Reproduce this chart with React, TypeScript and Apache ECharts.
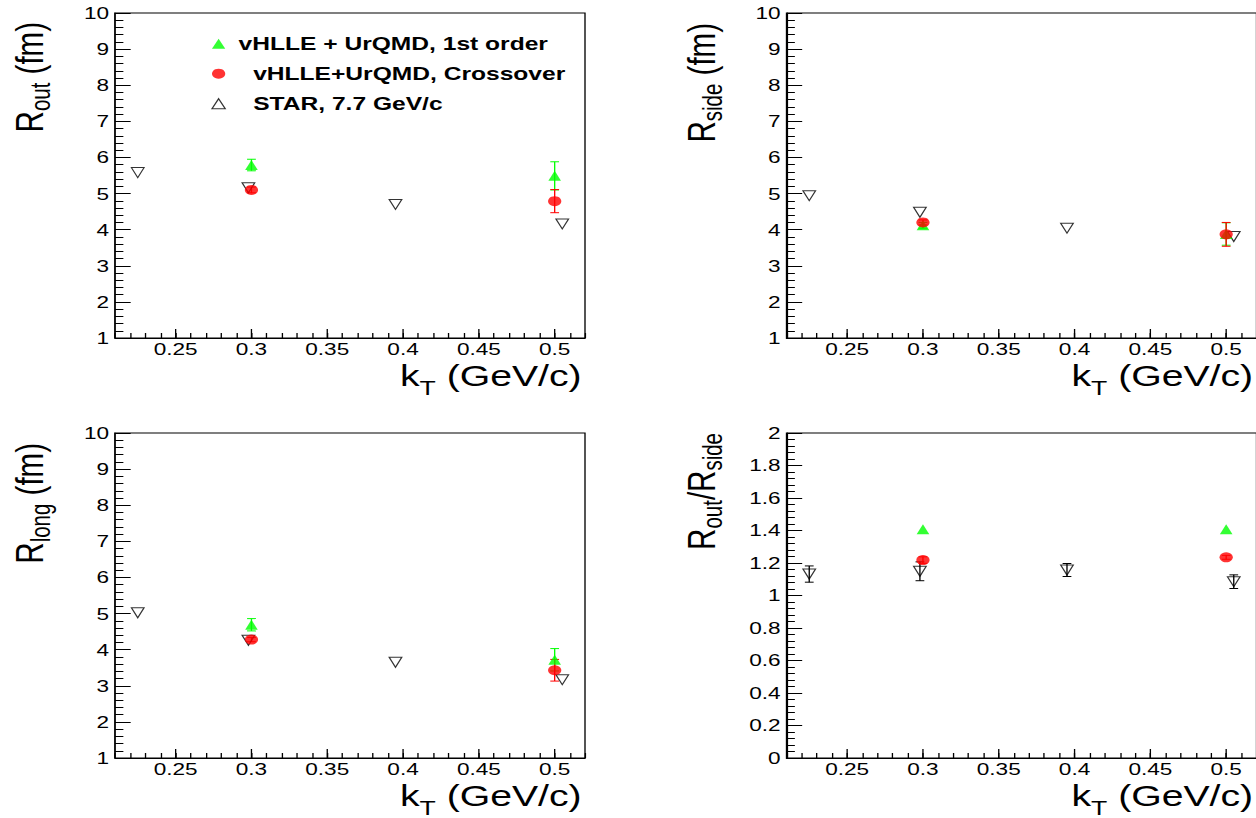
import React, { useEffect, useRef } from "react";
import * as echarts from "echarts";

// The reference picture is horizontally stretched; draw at natural width and stretch with CSS.
const STRETCH = 1.329;
const CHART_W = 945;
const CHART_H = 818;
const FONT = "'Liberation Sans', Arial, Helvetica, sans-serif";

const NAME_FIRST = "vHLLE + UrQMD, 1st order";
const NAME_CROSS = "vHLLE+UrQMD, Crossover";
const NAME_STAR = "STAR, 7.7 GeV/c";

const GREEN = "#00ff00";
const RED = "#ff0000";

// axes
const KT_RANGE = [0.21, 0.52];
const KT_MINOR_STEP = 0.01;
const KT_LABELS = [0.25, 0.3, 0.35, 0.4, 0.45, 0.5];
const R_RANGE = [1, 10];
const R_STEP = 1;
const RATIO_RANGE = [0, 2];
const RATIO_STEP = 0.2;

// kT positions
const kTModel = [0.3, 0.5];
const kTStar = [0.225, 0.298, 0.395, 0.505];

// R_out (fm)
const routFirst = [5.79, 5.49];
const routFirstErr = [0.16, 0.39];
const routCross = [5.1, 4.79];
const routCrossErr = [0.08, 0.32];
const routStar = [5.58, 5.16, 4.7, 4.16];

// R_side (fm)
const rsideFirst = [4.12, 3.88];
const rsideFirstErr = [0.08, 0.31];
const rsideCross = [4.2, 3.87];
const rsideCrossErr = [0.07, 0.33];
const rsideStar = [4.94, 4.48, 4.04, 3.81];

// R_long (fm)
const rlongFirst = [4.69, 3.72];
const rlongFirstErr = [0.17, 0.31];
const rlongCross = [4.28, 3.43];
const rlongCrossErr = [0.06, 0.3];
const rlongStar = [5.02, 4.26, 3.65, 3.17];

// R_out / R_side
const ratioFirst = [1.408, 1.408];
const ratioFirstErr = [0, 0];
const ratioCross = [1.218, 1.235];
const ratioCrossErr = [0.02, 0.012];
const ratioStar = [1.132, 1.149, 1.157, 1.085];
const ratioStarErr = [0.05, 0.058, 0.04, 0.042];

// panel layout, in picture pixels
const PANEL_LEFT = [115, 786.5, 115, 786.5];
const PANEL_TOP = [13, 13, 433, 433];
const PANEL_W = 470;
const PANEL_H = 325;
const YTITLE_END = [22, 23, 443, 433];

const DOWN_TRIANGLE = "path://M0,0L10,0L5,10Z";

type Panel = {
  yRange: number[];
  yStep: number;
  first: number[];
  firstErr: number[];
  cross: number[];
  crossErr: number[];
  star: number[];
  starErr: number[] | null;
  yTitle: string;
};

const panels: Panel[] = [
  { yRange: R_RANGE, yStep: R_STEP, first: routFirst, firstErr: routFirstErr, cross: routCross, crossErr: routCrossErr, star: routStar, starErr: null, yTitle: "{r|R}{s|out}{r| (fm)}" },
  { yRange: R_RANGE, yStep: R_STEP, first: rsideFirst, firstErr: rsideFirstErr, cross: rsideCross, crossErr: rsideCrossErr, star: rsideStar, starErr: null, yTitle: "{r|R}{s|side}{r| (fm)}" },
  { yRange: R_RANGE, yStep: R_STEP, first: rlongFirst, firstErr: rlongFirstErr, cross: rlongCross, crossErr: rlongCrossErr, star: rlongStar, starErr: null, yTitle: "{r|R}{s|long}{r| (fm)}" },
  { yRange: RATIO_RANGE, yStep: RATIO_STEP, first: ratioFirst, firstErr: ratioFirstErr, cross: ratioCross, crossErr: ratioCrossErr, star: ratioStar, starErr: ratioStarErr, yTitle: "{r|R}{s|out}{r|/R}{s|side}" },
];

function errorSeries(i: number, xs: number[], vals: number[], errs: number[], color: string) {
  const data = xs
    .map((x, j) => [x, vals[j] - errs[j], vals[j] + errs[j]])
    .filter((d) => d[2] > d[1]);
  return {
    type: "custom",
    coordinateSystem: "cartesian2d",
    xAxisIndex: i,
    yAxisIndex: i,
    silent: true,
    encode: { x: 0, y: [1, 2] },
    data,
    renderItem: (_params: any, api: any) => {
      const x = api.value(0);
      const lo = api.value(1);
      const hi = api.value(2);
      const pHi = api.coord([x, hi]);
      const pLo = api.coord([x, lo]);
      const cw = 3.3;
      const st = { stroke: color, lineWidth: 1 };
      return {
        type: "group",
        children: [
          { type: "line", shape: { x1: pHi[0], y1: pHi[1], x2: pLo[0], y2: pLo[1] }, style: st },
          { type: "line", shape: { x1: pHi[0] - cw, y1: pHi[1], x2: pHi[0] + cw, y2: pHi[1] }, style: st },
          { type: "line", shape: { x1: pLo[0] - cw, y1: pLo[1], x2: pLo[0] + cw, y2: pLo[1] }, style: st },
        ],
      };
    },
  };
}

// longer (major) ticks at the labelled kT values, placed through the axis scale
function majorTickSeries(i: number, yMin: number) {
  return {
    type: "custom",
    coordinateSystem: "cartesian2d",
    xAxisIndex: i,
    yAxisIndex: i,
    silent: true,
    encode: { x: 0, y: 1 },
    data: KT_LABELS.map((x) => [x, yMin]),
    renderItem: (_params: any, api: any) => {
      const p = api.coord([api.value(0), api.value(1)]);
      return {
        type: "line",
        shape: { x1: p[0], y1: p[1], x2: p[0], y2: p[1] - 9 },
        style: { stroke: "#000", lineWidth: 1 },
      };
    },
  };
}

function buildOption() {
  const grid: any[] = [];
  const xAxis: any[] = [];
  const yAxis: any[] = [];
  const series: any[] = [];
  const graphic: any[] = [];

  const labelStyle = { fontFamily: FONT, fontSize: 17, color: "#000" };
  const titleMain = { fontFamily: FONT, fontSize: 29.5, lineHeight: 30, color: "#000", verticalAlign: "top" };

  panels.forEach((p, i) => {
    const left = PANEL_LEFT[i] / STRETCH;
    const width = PANEL_W / STRETCH;
    const top = PANEL_TOP[i];
    grid.push({
      left,
      top,
      width,
      height: PANEL_H,
      show: true,
      borderColor: "#000",
      borderWidth: 1,
      backgroundColor: "transparent",
      containLabel: false,
      outerBoundsMode: "none",
    });
    xAxis.push({
      type: "value",
      gridIndex: i,
      position: "bottom",
      min: KT_RANGE[0],
      max: KT_RANGE[1],
      interval: KT_MINOR_STEP,
      axisLine: { show: true, onZero: false, lineStyle: { color: "#000", width: 1 } },
      axisTick: { show: true, inside: true, length: 5, lineStyle: { color: "#000", width: 1 } },
      axisLabel: { show: true, customValues: KT_LABELS, margin: 2.5, ...labelStyle },
      splitLine: { show: false },
    });
    yAxis.push({
      type: "value",
      gridIndex: i,
      min: p.yRange[0],
      max: p.yRange[1],
      interval: p.yStep,
      axisLine: { show: true, onZero: false, lineStyle: { color: "#000", width: 1 } },
      axisTick: { show: true, inside: true, length: 11.8, lineStyle: { color: "#000", width: 1 } },
      minorTick: { show: true, splitNumber: 5, length: 6.3, lineStyle: { color: "#000", width: 1 } },
      axisLabel: { show: true, margin: 4.5, ...labelStyle },
      splitLine: { show: false },
      minorSplitLine: { show: false },
    });

    series.push(majorTickSeries(i, p.yRange[0]));
    // STAR
    series.push({
      type: "scatter",
      name: NAME_STAR,
      xAxisIndex: i,
      yAxisIndex: i,
      symbol: DOWN_TRIANGLE,
      symbolSize: [9.5, 10],
      itemStyle: { color: "rgba(255,255,255,0)", borderColor: "#000", borderWidth: 1 },
      data: kTStar.map((x, j) => [x, p.star[j]]),
    });
    if (p.starErr) series.push(errorSeries(i, kTStar, p.star, p.starErr, "#000"));
    // 1st order
    series.push(errorSeries(i, kTModel, p.first, p.firstErr, GREEN));
    series.push({
      type: "scatter",
      name: NAME_FIRST,
      xAxisIndex: i,
      yAxisIndex: i,
      symbol: "triangle",
      symbolSize: [9.5, 10],
      itemStyle: { color: GREEN },
      data: kTModel.map((x, j) => [x, p.first[j]]),
    });
    // crossover
    series.push(errorSeries(i, kTModel, p.cross, p.crossErr, RED));
    series.push({
      type: "scatter",
      name: NAME_CROSS,
      xAxisIndex: i,
      yAxisIndex: i,
      symbol: "circle",
      symbolSize: 10,
      itemStyle: { color: RED },
      data: kTModel.map((x, j) => [x, p.cross[j]]),
    });

    // axis titles
    graphic.push({
      type: "text",
      x: left - 79.3,
      y: YTITLE_END[i],
      rotation: Math.PI / 2,
      silent: true,
      style: {
        text: p.yTitle,
        align: "right",
        verticalAlign: "top",
        fontFamily: FONT,
        fontSize: 29.5,
        fill: "#000",
        rich: {
          r: titleMain,
          s: { fontFamily: FONT, fontSize: 20.5, lineHeight: 20, color: "#000", verticalAlign: "top", padding: [13, 0, 0, 0] },
        },
      },
    });
    graphic.push({
      type: "text",
      x: left + width - 2.5,
      y: top + PANEL_H + 22.5,
      silent: true,
      style: {
        text: "{r|k}{s|T}{r| (GeV/c)}",
        align: "right",
        verticalAlign: "top",
        fontFamily: FONT,
        fontSize: 29.5,
        fill: "#000",
        rich: {
          r: titleMain,
          s: { fontFamily: FONT, fontSize: 20, lineHeight: 14, color: "#000", verticalAlign: "top", padding: [17.5, 0, 0, 0] },
        },
      },
    });
  });

  const legendText = { fontFamily: FONT, fontWeight: "bold", fontSize: 18.5, color: "#000", lineHeight: 20 };

  return {
    animation: false,
    backgroundColor: "#fff",
    textStyle: { fontFamily: FONT },
    grid,
    xAxis,
    yAxis,
    series,
    graphic,
    legend: {
      data: [
        { name: NAME_FIRST, icon: "triangle" },
        { name: NAME_CROSS, icon: "circle" },
        { name: NAME_STAR, icon: "triangle", itemStyle: { color: "rgba(255,255,255,0)", borderColor: "#000", borderWidth: 1 } },
      ],
      orient: "vertical",
      left: 159,
      top: 33.7,
      padding: 0,
      itemGap: 10,
      itemWidth: 10,
      itemHeight: 10,
      selectedMode: false,
      formatter: (n: string) => (n === NAME_FIRST ? `{a|${n}}` : `{b|${n}}`),
      textStyle: {
        ...legendText,
        rich: {
          a: { ...legendText, padding: [0, 0, 0, 5] },
          b: { ...legendText, padding: [0, 0, 0, 16] },
        },
      },
    },
  };
}

export default function App() {
  const ref = useRef<HTMLDivElement>(null);
  useEffect(() => {
    if (!ref.current) return;
    const chart = echarts.init(ref.current, undefined, { renderer: "svg" });
    chart.setOption(buildOption() as any);
    return () => chart.dispose();
  }, []);
  return (
    <div style={{ position: "fixed", left: 0, top: 0, width: 1256, height: 818, overflow: "hidden", background: "#fff" }}>
      <div
        ref={ref}
        style={{ width: CHART_W, height: CHART_H, transform: `scaleX(${STRETCH})`, transformOrigin: "0 0" }}
      />
    </div>
  );
}
